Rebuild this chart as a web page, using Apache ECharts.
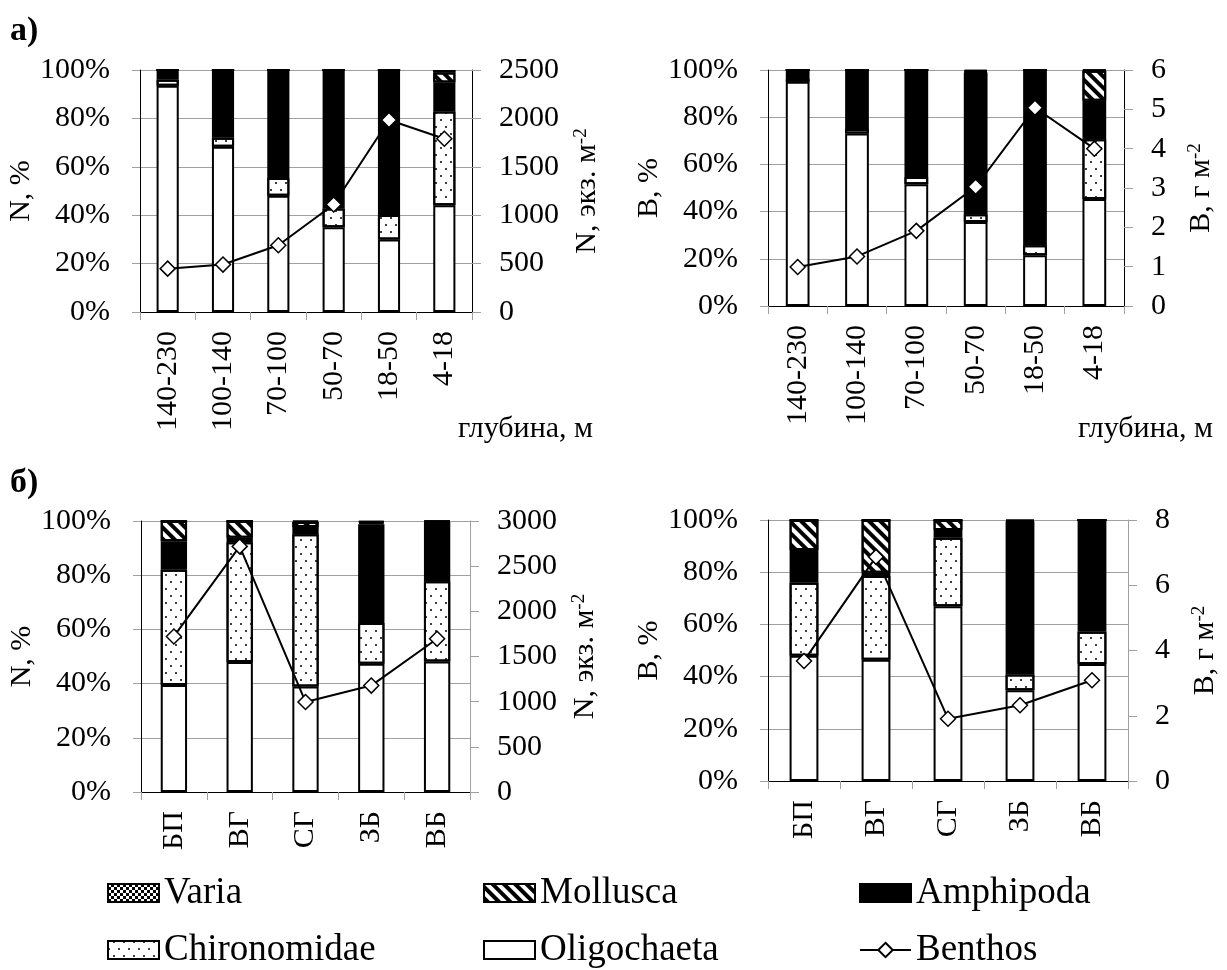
<!DOCTYPE html>
<html>
<head>
<meta charset="utf-8">
<title>Benthos</title>
<script src="https://cdn.jsdelivr.net/npm/echarts@6/dist/echarts.min.js"></script>
<style>
  html, body { margin: 0; padding: 0; background: #fff; }
  #main { width: 1227px; height: 970px; }
</style>
</head>
<body>
<div id="main"></div>
<script>
  // categories
  const depthCats = ['140-230', '100-140', '70-100', '50-70', '18-50', '4-18'];
  const siteCats = ['БП', 'ВГ', 'СГ', 'ЗБ', 'ВБ'];

  // а) numbers, % by depth
  const nDepthOlig = [93.5, 68.3, 48, 35, 30, 44.1];
  const nDepthChir = [2.5, 3.7, 7.4, 7.8, 10.1, 38.7];
  const nDepthAmph = [4, 28, 44.6, 57.2, 59.9, 12];
  const nDepthMoll = [0, 0, 0, 0, 0, 4.2];
  const nDepthVaria = [0, 0, 0, 0, 0, 1];
  const nDepthBenthos = [448, 490, 690, 1110, 1983, 1790];

  // а) biomass, % by depth
  const bDepthOlig = [95, 73.1, 51.6, 35.6, 21.5, 45.3];
  const bDepthChir = [1.2, 1.9, 3.1, 3.3, 4.2, 25.4];
  const bDepthAmph = [3.8, 25, 45.3, 60, 74.3, 16.3];
  const bDepthMoll = [0, 0, 0, 0.5, 0, 12.7];
  const bDepthVaria = [0, 0, 0, 0.6, 0, 0.3];
  const bDepthBenthos = [0.99, 1.26, 1.91, 3.03, 5.04, 4.0];

  // б) numbers, % by site
  const nSiteOlig = [39.5, 48, 38.9, 47.3, 48.2];
  const nSiteChir = [42.5, 44.2, 56.2, 15.1, 29.6];
  const nSiteAmph = [10.5, 1.6, 2.7, 36.4, 21.8];
  const nSiteMoll = [7.5, 6.2, 1.8, 0.7, 0.2];
  const nSiteVaria = [0, 0, 0.4, 0.5, 0.2];
  const nSiteBenthos = [1722, 2719, 997, 1178, 1696];

  // б) biomass, % by site
  const bSiteOlig = [48, 46.5, 67, 34.8, 44.8];
  const bSiteChir = [28, 32, 26.2, 6, 12.4];
  const bSiteAmph = [12.5, 1.3, 3, 58.6, 42.8];
  const bSiteMoll = [11.5, 20.2, 3.8, 0.3, 0];
  const bSiteVaria = [0, 0, 0, 0.3, 0];
  const bSiteBenthos = [3.68, 6.87, 1.91, 2.32, 3.09];

  const FONT = 'Liberation Serif';
  const GRAY = '#a0a0a0';

  const dots = { symbol: 'circle', symbolSize: 1, color: '#000', dashArrayX: [[2, 8], [0, 5, 2, 3]], dashArrayY: [2, 5] };
  const stripes = { symbol: 'rect', symbolSize: 1, color: '#000', dashArrayX: [1, 0], dashArrayY: [4, 4], rotation: Math.PI / 4 };
  const checks = { symbol: 'rect', symbolSize: 1, color: '#000', dashArrayX: [[3, 3], [0, 3, 3, 0]], dashArrayY: [3, 0] };

  const grids = [
    { left: 140, top: 70, width: 332, height: 242 },
    { left: 768, top: 70, width: 356, height: 236 },
    { left: 141, top: 521, width: 329, height: 271 },
    { left: 768, top: 520, width: 360, height: 261 }
  ];

  function xAxis(gridIndex, data) {
    return {
      type: 'category', gridIndex: gridIndex, data: data, boundaryGap: true,
      axisLine: { show: true, lineStyle: { color: '#000', width: 1 } },
      axisTick: { show: true, alignWithLabel: false, length: 8, lineStyle: { color: GRAY } },
      axisLabel: { rotate: 90, interval: 0, margin: 19, fontFamily: FONT, fontSize: 30, color: '#000' },
      splitLine: { show: false }
    };
  }

  function pctAxis(gridIndex, name) {
    return {
      type: 'value', gridIndex: gridIndex, position: 'left', min: 0, max: 100, interval: 20,
      name: name, nameLocation: 'middle', nameRotate: 90, nameGap: 86,
      nameTextStyle: { fontFamily: FONT, fontSize: 30, color: '#000' },
      axisLine: { show: true, lineStyle: { color: '#000', width: 1 } },
      axisTick: { show: true, length: 8, lineStyle: { color: GRAY } },
      axisLabel: { formatter: '{value}%', margin: 30, fontFamily: FONT, fontSize: 30, color: '#000' },
      splitLine: { show: true, lineStyle: { color: GRAY, width: 1 } }
    };
  }

  function absAxis(gridIndex, name, max, interval, gap, lineColor) {
    return {
      type: 'value', gridIndex: gridIndex, position: 'right', min: 0, max: max, interval: interval,
      name: name, nameLocation: 'middle', nameRotate: 90, nameGap: gap,
      nameTextStyle: {
        fontFamily: FONT, fontSize: 30, color: '#000',
        rich: { sup: { fontFamily: FONT, fontSize: 19, verticalAlign: 'top', color: '#000' } }
      },
      axisLine: { show: true, lineStyle: { color: lineColor, width: 1 } },
      axisTick: { show: true, length: 9, lineStyle: { color: GRAY } },
      axisLabel: { margin: 27, fontFamily: FONT, fontSize: 30, color: '#000', formatter: v => String(v) },
      splitLine: { show: false }
    };
  }

  function chartSeries(g, olig, chir, amph, moll, varia, benthos) {
    const base = { type: 'bar', xAxisIndex: g, yAxisIndex: g * 2, stack: 'st' + g, barWidth: '40%' };
    const border = { borderColor: '#000', borderWidth: 2 };
    return [
      Object.assign({}, base, { name: 'Oligochaeta', data: olig, itemStyle: Object.assign({ color: '#fff' }, border) }),
      Object.assign({}, base, { name: 'Chironomidae', data: chir, itemStyle: Object.assign({ color: '#fff', decal: dots }, border) }),
      Object.assign({}, base, { name: 'Amphipoda', data: amph, itemStyle: Object.assign({ color: '#000' }, border) }),
      Object.assign({}, base, { name: 'Mollusca', data: moll, itemStyle: Object.assign({ color: '#fff', decal: stripes }, border) }),
      Object.assign({}, base, { name: 'Varia', data: varia, itemStyle: Object.assign({ color: '#fff', decal: checks }, border) }),
      {
        type: 'line', name: 'Benthos', xAxisIndex: g, yAxisIndex: g * 2 + 1, data: benthos, z: 5,
        symbol: 'diamond', symbolSize: 15,
        lineStyle: { color: '#000', width: 2 },
        itemStyle: { color: '#fff', borderColor: '#000', borderWidth: 1.5 }
      }
    ];
  }

  // one legend per item so the 3x2 layout is fixed
  const legendText = { fontFamily: FONT, fontSize: 37, lineHeight: 40, color: '#000' };
  function legendItem(left, top, item) {
    return {
      left: left, top: top, orient: 'horizontal', itemWidth: 51, itemHeight: 18,
      selectedMode: false, data: [item], textStyle: legendText
    };
  }

  const myChart = echarts.init(document.getElementById('main'));
  myChart.setOption({
    backgroundColor: '#fff',
    animation: false,
    grid: grids.map(g => Object.assign({ outerBoundsMode: 'none', containLabel: false }, g)),
    xAxis: [xAxis(0, depthCats), xAxis(1, depthCats), xAxis(2, siteCats), xAxis(3, siteCats)],
    yAxis: [
      pctAxis(0, 'N, %'), absAxis(0, 'N, экз. м{sup|-2}', 2500, 500, 100, '#000'),
      pctAxis(1, 'B, %'), absAxis(1, 'B, г м{sup|-2}', 6, 1, 62, '#000'),
      pctAxis(2, 'N, %'), absAxis(2, 'N, экз. м{sup|-2}', 3000, 500, 100, GRAY),
      pctAxis(3, 'B, %'), absAxis(3, 'B, г м{sup|-2}', 8, 2, 62, GRAY)
    ],
    legend: [
      legendItem(102, 868, { name: 'Varia', icon: 'rect' }),
      legendItem(478, 868, { name: 'Mollusca', icon: 'rect' }),
      legendItem(854, 868, { name: 'Amphipoda', icon: 'rect' }),
      legendItem(102, 925, { name: 'Chironomidae', icon: 'rect' }),
      legendItem(478, 925, { name: 'Oligochaeta', icon: 'rect' }),
      legendItem(854, 925, { name: 'Benthos' })
    ],
    graphic: [
      { type: 'text', left: 10, top: 14, style: { text: 'а)', font: 'bold 34px "Liberation Serif"', fill: '#000' } },
      { type: 'text', left: 10, top: 466, style: { text: 'б)', font: 'bold 34px "Liberation Serif"', fill: '#000' } },
      { type: 'text', left: 458, top: 414, style: { text: 'глубина, м', font: '30px "Liberation Serif"', fill: '#000' } },
      { type: 'text', left: 1078, top: 414, style: { text: 'глубина, м', font: '30px "Liberation Serif"', fill: '#000' } }
    ],
    series: [].concat(
      chartSeries(0, nDepthOlig, nDepthChir, nDepthAmph, nDepthMoll, nDepthVaria, nDepthBenthos),
      chartSeries(1, bDepthOlig, bDepthChir, bDepthAmph, bDepthMoll, bDepthVaria, bDepthBenthos),
      chartSeries(2, nSiteOlig, nSiteChir, nSiteAmph, nSiteMoll, nSiteVaria, nSiteBenthos),
      chartSeries(3, bSiteOlig, bSiteChir, bSiteAmph, bSiteMoll, bSiteVaria, bSiteBenthos)
    )
  });
</script>
</body>
</html>
